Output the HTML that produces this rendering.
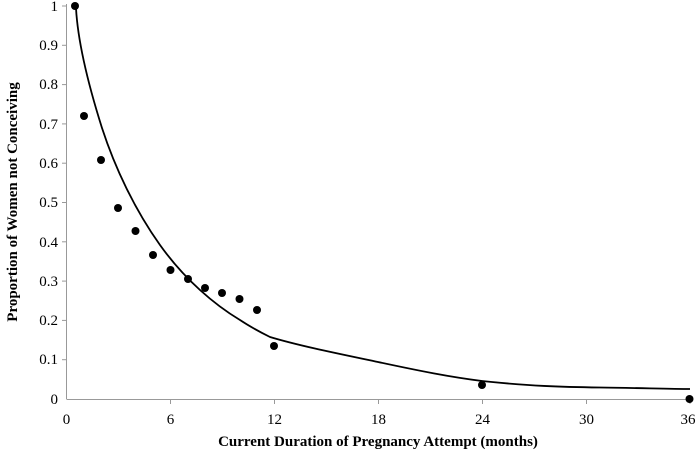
<!DOCTYPE html>
<html><head><meta charset="utf-8"><style>body{margin:0;background:#fff}svg{display:block}</style></head>
<body>
<svg width="698" height="452" xmlns="http://www.w3.org/2000/svg" font-family="Liberation Serif, serif">
<g stroke="#999" stroke-width="1">
<line x1="66.5" y1="4" x2="66.5" y2="399"/>
<line x1="66.5" y1="399.5" x2="690" y2="399.5"/>
<line x1="62" y1="6" x2="66" y2="6"/><line x1="62" y1="45.3" x2="66" y2="45.3"/><line x1="62" y1="84.6" x2="66" y2="84.6"/><line x1="62" y1="123.9" x2="66" y2="123.9"/><line x1="62" y1="163.2" x2="66" y2="163.2"/><line x1="62" y1="202.5" x2="66" y2="202.5"/><line x1="62" y1="241.8" x2="66" y2="241.8"/><line x1="62" y1="281.1" x2="66" y2="281.1"/><line x1="62" y1="320.4" x2="66" y2="320.4"/><line x1="62" y1="359.7" x2="66" y2="359.7"/>
<line x1="170.5" y1="399" x2="170.5" y2="404"/><line x1="274.5" y1="399" x2="274.5" y2="404"/><line x1="378.5" y1="399" x2="378.5" y2="404"/><line x1="482.5" y1="399" x2="482.5" y2="404"/><line x1="586.5" y1="399" x2="586.5" y2="404"/><line x1="690" y1="399" x2="690" y2="404"/>
</g>
<g font-size="15" fill="#000" text-anchor="end">
<text x="58" y="11">1</text><text x="58" y="50">0.9</text><text x="58" y="89">0.8</text><text x="58" y="129">0.7</text><text x="58" y="168">0.6</text><text x="58" y="207">0.5</text><text x="58" y="247">0.4</text><text x="58" y="286">0.3</text><text x="58" y="325">0.2</text><text x="58" y="364">0.1</text><text x="58" y="404">0</text>
</g>
<g font-size="15" fill="#000" text-anchor="middle">
<text x="66.5" y="424">0</text><text x="170.5" y="424">6</text><text x="274.5" y="424">12</text><text x="378.5" y="424">18</text><text x="482.5" y="424">24</text><text x="586.5" y="424">30</text><text x="688" y="424">36</text>
</g>
<text x="378" y="446" font-size="15" font-weight="bold" text-anchor="middle">Current Duration of Pregnancy Attempt (months)</text>
<text transform="translate(17,202) rotate(-90)" font-size="15" font-weight="bold" text-anchor="middle">Proportion of Women not Conceiving</text>
<path d="M76,8 C78,45 90,90 102,128 C115,168 135,210 160,245 C185,280 215,305 240,320 C252,328 262,333 270,337 C300,346 340,354 378,362 C420,371 450,377 482,381 C530,386 560,387 600,387.5 C640,388 670,389 690,389" fill="none" stroke="#000" stroke-width="1.8"/>
<g fill="#000">
<circle cx="75" cy="6" r="4"/><circle cx="84" cy="116" r="4"/><circle cx="101" cy="160" r="4"/><circle cx="118" cy="208" r="4"/><circle cx="135.5" cy="231" r="4"/><circle cx="153" cy="255" r="4"/><circle cx="170.5" cy="270" r="4"/><circle cx="188" cy="279" r="4"/><circle cx="205" cy="288" r="4"/><circle cx="222" cy="293" r="4"/><circle cx="239.5" cy="299" r="4"/><circle cx="257" cy="310" r="4"/><circle cx="274" cy="346" r="4"/><circle cx="482" cy="385" r="4"/><circle cx="689.5" cy="399" r="4"/>
</g>
</svg>
</body></html>
